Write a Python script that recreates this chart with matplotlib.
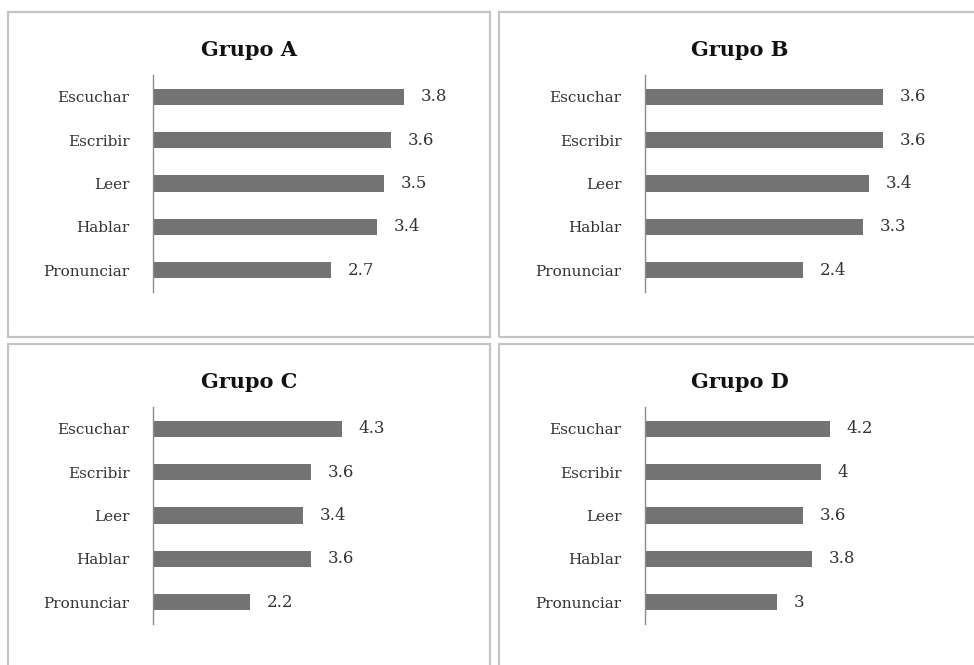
import matplotlib
matplotlib.use("Agg")
import matplotlib.pyplot as plt
from matplotlib.patches import Rectangle

# data
categorias = ["Escuchar", "Escribir", "Leer", "Hablar", "Pronunciar"]
grupos = ["Grupo A", "Grupo B", "Grupo C", "Grupo D"]
grupo_a = [3.8, 3.6, 3.5, 3.4, 2.7]
grupo_b = [3.6, 3.6, 3.4, 3.3, 2.4]
grupo_c = [4.3, 3.6, 3.4, 3.6, 2.2]
grupo_d = [4.2, 4, 3.6, 3.8, 3]
eje_max = [4, 4, 6, 6]

W, H = 974, 665
plt.rcParams['font.family'] = ['DejaVu Serif']

fig = plt.figure(figsize=(W / 100, H / 100), dpi=100)

def box(x0, y0, x1, y1):
    # pixel box (top-left origin) -> figure fraction
    return [x0 / W, 1 - y1 / H, (x1 - x0) / W, (y1 - y0) / H]

# panel frames: left, top, right, bottom in px
paneles = [(8, 12, 490, 337), (499, 12, 985, 337),
           (8, 344, 490, 680), (499, 344, 985, 680)]
# plot area: left edge of axis, top
areas = [(153, 75), (645, 75), (153, 407), (645, 407)]

datos = [grupo_a, grupo_b, grupo_c, grupo_d]

for i in range(4):
    x0, y0, x1, y1 = paneles[i]
    b = box(x0, y0, x1, y1)
    fig.patches.append(Rectangle((b[0], b[1]), b[2], b[3], transform=fig.transFigure,
                                 fill=False, edgecolor="#c4c4c4", linewidth=1.6))

    ax_x, ax_y = areas[i]
    ax = fig.add_axes(box(ax_x, ax_y, ax_x + 264, ax_y + 217))
    vals = datos[i]
    ypos = list(range(len(categorias)))
    ax.barh(ypos, vals, height=0.37, color="#737373")
    ax.set_xlim(0, eje_max[i])
    ax.set_ylim(len(categorias) - 0.5, -0.5)
    ax.set_yticks(ypos)
    ax.set_yticklabels(categorias, fontsize=11, color="#333333")
    ax.tick_params(axis="y", length=0, pad=17)
    ax.set_xticks([])
    for s in ["top", "right", "bottom"]:
        ax.spines[s].set_visible(False)
    ax.spines["left"].set_color("#8c8c8c")
    ax.spines["left"].set_linewidth(1.0)
    for y, v in zip(ypos, vals):
        ax.annotate(f"{v:g}", (v, y), xytext=(12, 0), textcoords="offset points",
                    ha="left", va="center", fontsize=12, color="#333333",
                    annotation_clip=False)

    cx = (x0 + min(x1, 980)) / 2 if i % 2 == 0 else 740
    fig.text(cx / W, 1 - (y0 + 38) / H, grupos[i], ha="center", va="center",
             fontsize=15, fontweight="bold", color="#111111")

fig.savefig("out.png", dpi=100)
